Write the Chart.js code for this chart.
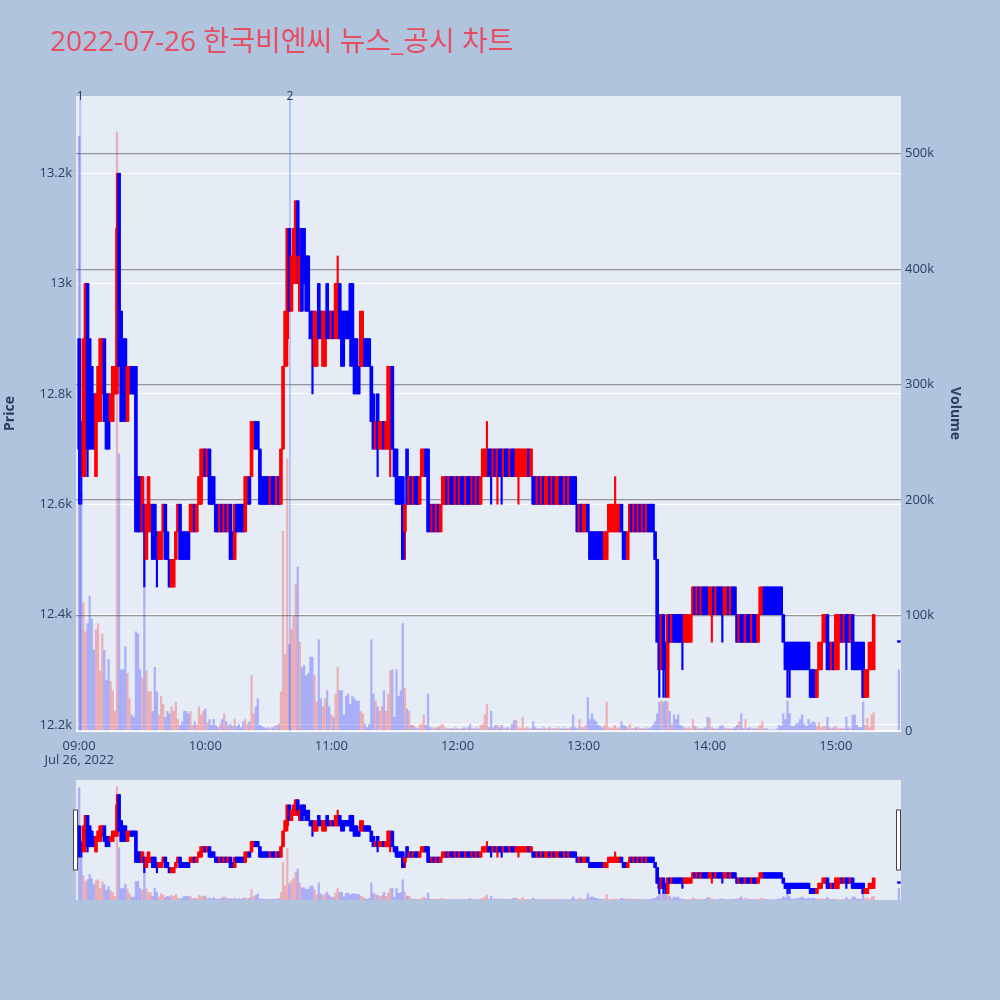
<!DOCTYPE html>
<html>
<head>
<meta charset="utf-8">
<script src="https://cdn.jsdelivr.net/npm/chart.js@4.4.0/dist/chart.umd.min.js"></script>
<style>
html, body { margin: 0; padding: 0; background: #b0c4de; }
#wrap { position: relative; width: 1000px; height: 1000px; }
#main { position: absolute; left: 0; top: 0; }
#slider { position: absolute; left: 70px; top: 780px; }
</style>
</head>
<body>
<div id="wrap">
  <canvas id="main" width="1000" height="1000"></canvas>
  <canvas id="slider" width="837" height="120"></canvas>
</div>
<script>
const chartTitle = "2022-07-26 한국비엔씨 뉴스_공시 차트";

// one candle per minute from 09:00 (minute 0) to 15:18 (minute 378)
const opens = [
  12900,12700,12650,12700,13000,12900,12850,12800,12650,12750,
  12750,12800,12900,12800,12800,12750,12750,12800,12800,13200,
  12950,12900,12900,12750,12800,12850,12850,12850,12650,12650,
  12550,12600,12500,12550,12550,12600,12600,12550,12500,12500,
  12550,12600,12550,12500,12450,12450,12500,12550,12600,12550,
  12550,12550,12550,12550,12550,12600,12550,12600,12600,12650,
  12700,12650,12700,12650,12650,12600,12600,12550,12600,12550,
  12600,12550,12600,12550,12500,12600,12600,12600,12600,12550,
  12600,12650,12650,12700,12750,12750,12700,12650,12650,12650,
  12650,12600,12650,12650,12600,12650,12600,12700,12850,12900,
  13100,12950,13000,13000,13150,12950,13100,13100,13050,13050,
  12950,12950,12850,12850,13000,12950,12850,12850,13000,12950,
  12900,12950,12900,12900,13000,12950,12950,12950,12950,13000,
  13000,12900,12900,12850,12850,12850,12900,12900,12900,12850,
  12800,12700,12800,12700,12700,12750,12700,12700,12700,12850,
  12700,12700,12650,12650,12650,12550,12700,12600,12650,12600,
  12650,12650,12600,12650,12650,12700,12700,12600,12550,12600,
  12550,12600,12550,12600,12600,12650,12600,12650,12650,12600,
  12650,12600,12650,12650,12600,12650,12650,12600,12650,12600,
  12650,12600,12650,12650,12650,12700,12700,12650,12700,12650,
  12700,12700,12650,12700,12700,12650,12700,12700,12650,12650,
  12650,12650,12650,12650,12700,12650,12650,12650,12600,12650,
  12600,12650,12600,12600,12650,12600,12650,12600,12600,12650,
  12650,12600,12650,12600,12650,12650,12650,12600,12550,12600,
  12550,12550,12600,12550,12550,12550,12550,12550,12550,12550,
  12500,12500,12550,12550,12550,12550,12550,12550,12600,12550,
  12550,12500,12550,12600,12550,12600,12550,12600,12550,12600,
  12550,12600,12600,12600,12550,12500,12400,12300,12400,12350,
  12250,12400,12350,12400,12400,12400,12400,12400,12350,12350,
  12350,12350,12400,12450,12400,12450,12400,12450,12450,12450,
  12400,12400,12450,12400,12450,12450,12450,12400,12400,12450,
  12400,12450,12450,12400,12350,12400,12400,12350,12400,12400,
  12350,12400,12400,12350,12400,12400,12450,12450,12450,12450,
  12450,12450,12450,12450,12450,12400,12350,12350,12350,12350,
  12350,12350,12350,12350,12350,12350,12350,12350,12300,12300,
  12300,12250,12300,12300,12350,12350,12400,12350,12300,12350,
  12300,12300,12350,12400,12350,12400,12400,12350,12400,12350,
  12350,12350,12350,12350,12250,12250,12300,12300,12300
];
const highs = [
  12900,12750,12900,13000,13000,12900,12850,12800,12800,12850,
  12900,12900,12900,12800,12800,12800,12850,12850,13200,13200,
  12950,12900,12900,12850,12850,12850,12850,12850,12650,12650,
  12650,12600,12600,12650,12600,12600,12600,12550,12550,12550,
  12600,12600,12550,12500,12500,12500,12550,12600,12600,12550,
  12550,12550,12550,12600,12600,12600,12600,12650,12700,12700,
  12700,12700,12700,12650,12650,12600,12600,12600,12600,12600,
  12600,12600,12600,12550,12600,12600,12600,12600,12600,12650,
  12650,12650,12750,12750,12750,12750,12700,12650,12650,12650,
  12650,12650,12650,12650,12650,12650,12700,12850,12950,13100,
  13100,13050,13100,13150,13150,13100,13100,13100,13050,13050,
  12950,12950,12950,12950,13000,12950,12950,12950,13000,12950,
  12950,12950,13000,13050,13000,12950,12950,12950,12950,13000,
  13000,12900,12900,12850,12950,12950,12900,12900,12900,12850,
  12800,12750,12800,12750,12750,12750,12750,12850,12850,12850,
  12700,12700,12650,12650,12650,12600,12700,12650,12650,12650,
  12650,12650,12650,12700,12700,12700,12700,12600,12600,12600,
  12600,12600,12600,12650,12650,12650,12650,12650,12650,12650,
  12650,12650,12650,12650,12650,12650,12650,12650,12650,12650,
  12650,12650,12700,12700,12750,12700,12700,12700,12700,12700,
  12700,12700,12700,12700,12700,12700,12700,12700,12700,12700,
  12700,12700,12700,12700,12700,12700,12650,12650,12650,12650,
  12650,12650,12650,12650,12650,12650,12650,12650,12650,12650,
  12650,12650,12650,12650,12650,12650,12650,12600,12600,12600,
  12600,12600,12600,12550,12550,12550,12550,12550,12550,12550,
  12550,12550,12600,12600,12600,12650,12600,12600,12600,12550,
  12550,12550,12600,12600,12600,12600,12600,12600,12600,12600,
  12600,12600,12600,12600,12550,12500,12400,12400,12400,12350,
  12400,12400,12400,12400,12400,12400,12400,12400,12400,12400,
  12400,12400,12450,12450,12450,12450,12450,12450,12450,12450,
  12450,12450,12450,12450,12450,12450,12450,12450,12450,12450,
  12450,12450,12450,12400,12400,12400,12400,12400,12400,12400,
  12400,12400,12400,12400,12450,12450,12450,12450,12450,12450,
  12450,12450,12450,12450,12450,12400,12350,12350,12350,12350,
  12350,12350,12350,12350,12350,12350,12350,12350,12300,12300,
  12300,12300,12350,12350,12400,12400,12400,12350,12350,12350,
  12400,12400,12400,12400,12400,12400,12400,12400,12400,12350,
  12350,12350,12350,12350,12300,12300,12350,12350,12400
];
const lows = [
  12600,12600,12650,12650,12650,12700,12700,12700,12650,12750,
  12750,12800,12750,12700,12700,12750,12750,12800,12800,12850,
  12750,12750,12750,12750,12800,12800,12800,12550,12550,12550,
  12550,12450,12500,12550,12550,12500,12500,12450,12500,12500,
  12550,12500,12500,12450,12450,12450,12500,12550,12500,12500,
  12500,12500,12500,12550,12550,12550,12550,12600,12600,12650,
  12650,12650,12600,12600,12600,12550,12550,12550,12550,12550,
  12550,12550,12500,12500,12500,12550,12550,12550,12550,12550,
  12600,12600,12650,12700,12700,12700,12600,12600,12600,12600,
  12600,12600,12600,12600,12600,12600,12600,12700,12850,12850,
  12950,12950,13000,13000,13000,12950,12950,13000,12950,12950,
  12900,12800,12850,12850,12900,12900,12850,12850,12900,12900,
  12900,12900,12900,12900,12900,12850,12850,12900,12900,12850,
  12850,12800,12800,12800,12850,12850,12850,12850,12850,12750,
  12700,12700,12650,12700,12700,12700,12700,12700,12650,12700,
  12650,12600,12600,12600,12500,12500,12600,12600,12600,12600,
  12600,12600,12600,12650,12650,12650,12550,12550,12550,12550,
  12550,12550,12550,12600,12600,12600,12600,12600,12600,12600,
  12600,12600,12600,12600,12600,12600,12600,12600,12600,12600,
  12600,12600,12650,12650,12650,12650,12600,12650,12650,12600,
  12650,12600,12650,12650,12650,12650,12650,12650,12650,12600,
  12650,12650,12650,12650,12650,12650,12600,12600,12600,12600,
  12600,12600,12600,12600,12600,12600,12600,12600,12600,12600,
  12600,12600,12600,12600,12600,12600,12600,12550,12550,12550,
  12550,12550,12550,12500,12500,12500,12500,12500,12500,12500,
  12500,12500,12550,12550,12550,12550,12550,12550,12550,12500,
  12500,12500,12550,12550,12550,12550,12550,12550,12550,12550,
  12550,12550,12550,12550,12500,12350,12250,12300,12250,12250,
  12250,12350,12350,12350,12350,12350,12350,12300,12350,12350,
  12350,12350,12400,12400,12400,12400,12400,12400,12400,12400,
  12400,12350,12400,12400,12400,12400,12350,12400,12400,12400,
  12400,12400,12400,12350,12350,12350,12350,12350,12350,12350,
  12350,12350,12350,12350,12400,12400,12400,12400,12400,12400,
  12400,12400,12400,12400,12400,12350,12300,12250,12250,12300,
  12300,12300,12300,12300,12300,12300,12300,12300,12250,12250,
  12250,12250,12300,12300,12350,12350,12300,12300,12300,12300,
  12300,12300,12350,12350,12350,12300,12350,12350,12300,12300,
  12300,12300,12300,12250,12250,12250,12300,12300,12300
];
const closes = [
  12700,12650,12900,13000,12700,12700,12750,12700,12800,12850,
  12900,12900,12750,12700,12700,12800,12850,12850,13100,12850,
  12750,12750,12800,12850,12850,12800,12800,12550,12550,12550,
  12650,12550,12600,12650,12600,12500,12550,12500,12550,12550,
  12600,12500,12500,12450,12500,12500,12550,12600,12500,12500,
  12500,12500,12500,12600,12600,12550,12600,12650,12700,12700,
  12650,12700,12600,12600,12600,12550,12550,12600,12550,12600,
  12550,12600,12500,12500,12600,12550,12550,12550,12550,12650,
  12650,12600,12750,12750,12700,12700,12600,12600,12600,12600,
  12600,12650,12600,12600,12650,12600,12700,12850,12950,13100,
  12950,13050,13100,13150,13050,13050,12950,13000,12950,12950,
  12900,12900,12950,12900,12900,12900,12950,12950,12900,12900,
  12950,12900,13000,13000,12900,12850,12900,12900,12900,12900,
  12850,12800,12850,12800,12950,12900,12850,12850,12850,12750,
  12700,12750,12700,12750,12750,12700,12750,12850,12850,12700,
  12650,12600,12600,12600,12500,12600,12600,12650,12600,12650,
  12600,12600,12650,12700,12700,12650,12550,12550,12600,12550,
  12600,12550,12600,12650,12650,12600,12650,12600,12600,12650,
  12600,12650,12600,12600,12650,12600,12600,12650,12600,12650,
  12600,12650,12700,12700,12700,12650,12650,12700,12650,12700,
  12650,12650,12700,12650,12650,12700,12650,12650,12700,12700,
  12700,12700,12700,12700,12650,12700,12600,12600,12650,12600,
  12650,12600,12650,12650,12600,12650,12600,12650,12650,12600,
  12600,12650,12600,12650,12600,12600,12600,12550,12600,12550,
  12600,12600,12550,12500,12500,12500,12500,12500,12500,12500,
  12550,12550,12600,12600,12600,12600,12600,12600,12550,12500,
  12500,12550,12600,12550,12600,12550,12600,12550,12600,12550,
  12600,12550,12550,12550,12500,12350,12300,12400,12300,12300,
  12400,12350,12400,12350,12350,12350,12350,12350,12400,12400,
  12400,12400,12450,12400,12450,12400,12450,12400,12400,12400,
  12450,12450,12400,12450,12400,12400,12400,12450,12450,12400,
  12450,12400,12400,12350,12400,12350,12350,12400,12350,12350,
  12400,12350,12350,12400,12450,12450,12400,12400,12400,12400,
  12400,12400,12400,12400,12400,12350,12300,12300,12300,12300,
  12300,12300,12300,12300,12300,12300,12300,12300,12250,12250,
  12250,12300,12350,12350,12400,12400,12300,12300,12350,12300,
  12400,12400,12400,12350,12400,12350,12350,12400,12300,12300,
  12300,12300,12300,12250,12300,12300,12350,12350,12400
];
// traded volume per minute, thousands of shares
const volumeK = [
  515,207,111,86,93,117,97,70,88,93,
  52,84,70,44,62,43,35,17,519,240,
  53,53,73,50,28,14,12,86,84,53,
  46,220,52,34,34,17,55,34,14,30,
  23,12,17,15,21,17,25,10,5,8,
  17,17,15,17,5,8,5,21,14,17,
  19,7,10,5,10,5,3,6,10,15,
  8,5,6,4,10,4,6,3,8,10,
  6,8,48,15,21,28,5,4,3,2,
  3,2,3,4,5,6,34,173,66,236,
  75,88,99,127,142,77,55,57,48,50,
  64,64,48,25,79,28,21,28,35,21,
  14,12,32,55,35,35,14,30,32,23,
  30,28,26,26,17,15,6,3,6,79,
  32,26,21,17,21,35,17,32,52,53,
  12,53,30,35,93,37,19,17,5,5,
  3,2,5,6,14,5,32,3,3,2,
  3,3,5,6,3,2,2,2,2,3,
  2,2,2,3,2,3,6,2,2,3,
  2,5,6,14,23,3,17,3,5,5,
  3,5,3,2,3,2,6,9,9,3,
  2,12,2,3,2,2,8,3,2,2,
  2,3,2,2,3,2,2,2,3,2,
  2,3,2,2,3,14,3,2,10,3,
  3,5,29,10,15,10,8,5,4,3,
  5,25,3,2,3,5,2,3,8,5,
  4,3,6,2,2,3,3,2,2,2,
  3,2,3,5,8,15,25,26,25,26,
  25,17,6,14,10,14,5,4,3,2,
  3,2,10,4,3,2,2,2,3,12,
  11,3,2,2,2,4,5,3,2,2,
  2,2,3,5,8,15,2,10,2,3,
  2,2,2,3,5,8,2,2,1,1,
  1,1,2,5,4,15,10,26,15,4,
  4,6,7,10,14,6,4,10,6,8,
  7,4,7,3,4,4,12,3,2,3,
  4,2,2,2,2,12,3,2,14,14,
  5,3,3,25,5,11,3,14,16
];
// 15:30 closing auction
const closeMinute = 390;
const closePrice = 12350;
const closeVolumeK = 53;

const hourTicks = [0, 60, 120, 180, 240, 300, 360];
const hourLabels = ["09:00", "10:00", "11:00", "12:00", "13:00", "14:00", "15:00"];
const dateLabel = "Jul 26, 2022";
const priceTicks = [12200, 12400, 12600, 12800, 13000, 13200];
const volumeTicks = [0, 100, 200, 300, 400, 500];
const newsMinutes = [0.5, 100.3];
const newsLabels = ["1", "2"];

const FONT = '"Open Sans", "Noto Sans CJK KR", sans-serif';
const INK = "#2a3f5f";
Chart.defaults.font.family = FONT;

const candles = opens.map((o, i) => ({ m: i, o: o, h: highs[i], l: lows[i], c: closes[i], v: volumeK[i] }));
candles.push({ m: closeMinute, o: closePrice, h: closePrice, l: closePrice, c: closePrice, v: closeVolumeK });

function makeDatasets() {
    const up = d => d.c > d.o;
    return [
        {
            type: "bar", yAxisID: "y", order: 1, grouped: false,
            data: candles.map(d => ({ x: d.m, y: [Math.min(d.o, d.c), Math.max(d.o, d.c)] })),
            backgroundColor: candles.map(d => up(d) ? "#ff0000" : "#0000ff"),
            barThickness: 3, minBarLength: 1.5
        },
        {
            type: "bar", yAxisID: "y", order: 2, grouped: false,
            data: candles.map(d => ({ x: d.m, y: [d.l, d.h] })),
            backgroundColor: candles.map(d => up(d) ? "#ff0000" : "#0000ff"),
            barThickness: 1.5, minBarLength: 1
        },
        {
            type: "bar", yAxisID: "yv", order: 3, grouped: false,
            data: candles.map(d => ({ x: d.m, y: d.v })),
            backgroundColor: candles.map(d => up(d) ? "rgba(255,0,0,0.25)" : "rgba(0,0,255,0.25)"),
            barThickness: 1.6
        }
    ];
}

const plotBg = {
    id: "plotBg",
    beforeDraw(chart) {
        const { ctx, chartArea: a } = chart;
        ctx.save();
        ctx.fillStyle = "#e5ecf6";
        ctx.fillRect(a.left, a.top, a.right - a.left, a.bottom - a.top);
        ctx.restore();
    }
};

const newsMarks = {
    id: "newsMarks",
    beforeDatasetsDraw(chart) {
        const { ctx, chartArea: a, scales } = chart;
        ctx.save();
        ctx.strokeStyle = "rgba(90,130,255,0.35)";
        ctx.lineWidth = 2;
        newsMinutes.forEach(m => {
            const x = scales.x.getPixelForValue(m);
            ctx.beginPath();
            ctx.moveTo(x, a.top);
            ctx.lineTo(x, a.bottom);
            ctx.stroke();
        });
        ctx.restore();
    },
    afterDraw(chart) {
        const { ctx, chartArea: a, scales } = chart;
        ctx.save();
        ctx.fillStyle = INK;
        ctx.font = "12px " + FONT;
        ctx.textAlign = "center";
        ctx.textBaseline = "middle";
        newsMinutes.forEach((m, i) => {
            ctx.fillText(newsLabels[i], scales.x.getPixelForValue(m), a.top + 1);
        });
        ctx.fillStyle = "#e84d64";
        ctx.font = "28px " + FONT;
        ctx.textAlign = "left";
        ctx.textBaseline = "alphabetic";
        ctx.fillText(chartTitle, 50, 51);
        ctx.restore();
    }
};

new Chart(document.getElementById("main"), {
    type: "bar",
    data: { datasets: makeDatasets() },
    options: {
        responsive: false,
        animation: false,
        layout: { padding: { top: 96, left: 0, right: 35, bottom: 219 } },
        plugins: { legend: { display: false }, tooltip: { enabled: false } },
        scales: {
            x: {
                type: "linear", min: -1.5, max: 391, offset: false,
                grid: { display: false }, border: { display: false },
                afterBuildTicks: s => { s.ticks = hourTicks.map(v => ({ value: v })); },
                afterFit: s => { s.height = 50; },
                ticks: {
                    padding: 0, color: INK, font: { size: 13, lineHeight: 1.1 }, maxRotation: 0, autoSkip: false,
                    callback: (v, i) => i === 0 ? [hourLabels[0], dateLabel] : hourLabels[i]
                }
            },
            y: {
                type: "linear", position: "left", min: 12189, max: 13340,
                afterBuildTicks: s => { s.ticks = priceTicks.map(v => ({ value: v })); },
                afterFit: s => { s.width = 76; },
                grid: { color: "#ffffff", lineWidth: 1, drawTicks: false },
                border: { display: false },
                ticks: { padding: 4, color: INK, font: { size: 13 }, callback: v => (v / 1000) + "k" },
                title: { display: true, text: "Price", color: INK, font: { size: 14, weight: "bold" }, padding: { top: 2, bottom: 0 } }
            },
            yv: {
                type: "linear", position: "right", min: 0, max: 550,
                afterBuildTicks: s => { s.ticks = volumeTicks.map(v => ({ value: v })); },
                afterFit: s => { s.width = 64; },
                grid: {
                    color: c => c.tick && c.tick.value === 0 ? "#ffffff" : "rgba(120,120,120,0.75)",
                    lineWidth: c => c.tick && c.tick.value === 0 ? 2 : 1.3,
                    drawTicks: false
                },
                border: { display: false },
                ticks: { padding: 4, color: INK, font: { size: 13 }, callback: v => v === 0 ? "0" : v + "k" },
                title: { display: true, text: "Volume", color: INK, font: { size: 14, weight: "bold" }, padding: { top: 2, bottom: 0 } }
            }
        }
    },
    plugins: [plotBg, newsMarks]
});

// range slider below the main plot: same data, squeezed
const sliderHandles = {
    id: "sliderHandles",
    afterDraw(chart) {
        const { ctx, chartArea: a } = chart;
        const mid = (a.top + a.bottom) / 2;
        ctx.save();
        ctx.fillStyle = "#ffffff";
        ctx.strokeStyle = "#444444";
        ctx.lineWidth = 1;
        [a.left - 2.5, a.right - 4.5].forEach(x => {
            ctx.fillRect(x, mid - 30, 4, 60);
            ctx.strokeRect(x, mid - 30, 4, 60);
        });
        ctx.restore();
    }
};

new Chart(document.getElementById("slider"), {
    type: "bar",
    data: { datasets: makeDatasets() },
    options: {
        responsive: false,
        animation: false,
        layout: { padding: { top: 0, left: 6, right: 6, bottom: 0 } },
        plugins: { legend: { display: false }, tooltip: { enabled: false } },
        scales: {
            x: { type: "linear", min: -1.5, max: 391, offset: false, display: false },
            y: { type: "linear", min: 12189, max: 13340, display: false },
            yv: { type: "linear", min: 0, max: 550, display: false }
        }
    },
    plugins: [plotBg, sliderHandles]
});
</script>
</body>
</html>
